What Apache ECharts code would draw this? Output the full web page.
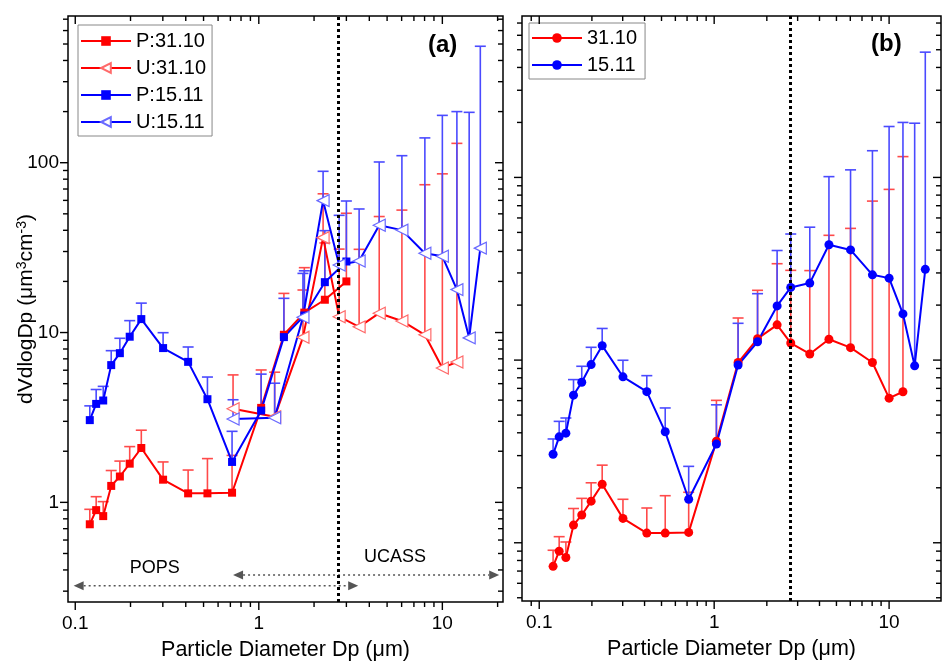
<!DOCTYPE html>
<html>
<head>
<meta charset="utf-8">
<script src="https://cdn.jsdelivr.net/npm/echarts@6/dist/echarts.min.js"></script>
<style>
  html, body { margin: 0; padding: 0; background: #fff; }
  #chart { width: 945px; height: 661px; }
</style>
</head>
<body>
<div id="chart"></div>
<script>
// Size-bin mid diameters (µm)
const popsDiam  = [0.12, 0.13, 0.142, 0.157, 0.175, 0.198, 0.229, 0.301, 0.412, 0.525, 0.715, 1.03, 1.37, 1.77, 2.29, 3.0];
const ucassDiam = [0.724, 1.22, 1.74, 2.24, 2.74, 3.52, 4.53, 6.02, 8.03, 10.0, 12.0, 14.0, 16.1];

// dV/dlogDp (µm³ cm⁻³) with upper error bounds, POPS
const pops3110      = [0.743, 0.90, 0.83, 1.25, 1.42, 1.69, 2.09, 1.36, 1.13, 1.13, 1.14, 3.6, 9.7, 13.1, 15.6, 20.0];
const pops3110Upper = [0.91, 1.08, 1.01, 1.54, 1.75, 2.13, 2.66, 1.73, 1.55, 1.81, 1.89, 6.02, 17.0, 24.1, 33.7, 50.4];
const pops1511      = [3.05, 3.8, 3.98, 6.43, 7.56, 9.45, 12.0, 8.1, 6.72, 4.05, 1.73, 3.47, 9.4, 12.6, 19.8, 26.2];
const pops1511Upper = [3.7, 4.62, 4.82, 7.82, 9.25, 11.75, 14.9, 9.98, 8.22, 5.47, 2.62, 5.69, 15.9, 23.1, 39.8, 59.5];

// dV/dlogDp (µm³ cm⁻³) with upper error bounds, UCASS
const ucass3110      = [3.56, 3.19, 9.37, 36.2, 12.4, 10.8, 13.0, 11.7, 9.7, 6.19, 6.71];
const ucass3110Upper = [5.63, 5.84, 17.8, 65.6, 31.0, 30.9, 48.2, 52.6, 74.2, 86, 130];
const ucass1511      = [3.10, 3.15, 12.3, 59.8, 25.0, 26.4, 42.8, 40.1, 29.3, 28.1, 17.9, 9.3, 31.4];
const ucass1511Upper = [4.02, 5.03, 22.3, 89, 49, 53.4, 101, 110, 140, 190, 200, 198, 485];

// Instrument switch-over diameter (µm)
const sizeBoundary = 2.72;

// Instrument ranges drawn as double arrows in panel (a)
const rangeNames = ['POPS', 'UCASS'];
const rangeFrom  = [0.098, 0.724];
const rangeTo    = [3.48, 20.4];
const rangeLevel = [0.323, 0.373];
const rangeLabelX = [0.271, 5.52];
const rangeLabelY = [0.41, 0.475];

// Axis ticks
const xMajorTicks = [0.1, 1, 10];
const xMinorTicks = [0.09, 0.2, 0.3, 0.4, 0.5, 0.6, 0.7, 0.8, 0.9, 2, 3, 4, 5, 6, 7, 8, 9, 20];
const yMajorTicks = [1, 10, 100];
const yMinorTicks = [0.2, 0.3, 0.4, 0.5, 0.6, 0.7, 0.8, 0.9, 2, 3, 4, 5, 6, 7, 8, 9,
                     20, 30, 40, 50, 60, 70, 80, 90, 200, 300, 400, 500, 600, 700, 800, 900];

const FONT = "'Liberation Sans', Arial, sans-serif";
const RED = '#ff0000', BLUE = '#0000ff';
const RED_ERR = '#ff4a4a', BLUE_ERR = '#4a4aff';

const ranges = [
  { x: [0.0913, 21.4], y: [0.259, 731] },
  { x: [0.0797, 19.8], y: [0.48, 765] }
];

function zip(xs, ys) { return ys.map((v, i) => [xs[i], v]); }
function zip3(xs, ys, us) { return ys.map((v, i) => [xs[i], v, us[i]]); }

// Combined distribution: POPS below the switch-over diameter, UCASS above it
function merge(pd, pv, pu, ud, uv, uu) {
  const pts = [];
  pv.forEach((v, i) => { if (pd[i] < sizeBoundary) pts.push([pd[i], v, pu[i]]); });
  uv.forEach((v, i) => { if (ud[i] > sizeBoundary) pts.push([ud[i], v, uu[i]]); });
  return pts;
}
const merged3110 = merge(popsDiam, pops3110, pops3110Upper, ucassDiam, ucass3110, ucass3110Upper);
const merged1511 = merge(popsDiam, pops1511, pops1511Upper, ucassDiam, ucass1511, ucass1511Upper);

function errorBars(name, gi, data, color) {
  return {
    name: name, type: 'custom', xAxisIndex: gi, yAxisIndex: gi, z: 2, silent: true,
    data: data, encode: { x: 0, y: [1, 2] },
    renderItem: function (params, api) {
      const p0 = api.coord([api.value(0), api.value(1)]);
      const p1 = api.coord([api.value(0), api.value(2)]);
      const s = { stroke: color, lineWidth: 1.6 };
      return { type: 'group', children: [
        { type: 'line', shape: { x1: p0[0], y1: p0[1], x2: p1[0], y2: p1[1] }, style: s },
        { type: 'line', shape: { x1: p1[0] - 5.5, y1: p1[1], x2: p1[0] + 5.5, y2: p1[1] }, style: s }
      ]};
    }
  };
}

function inRange(v, r) { return v > r[0] && v < r[1]; }

function tickSeries(gi) {
  const r = ranges[gi];
  const xt = xMajorTicks.filter(v => inRange(v, r.x)).map(v => [v, 1, 1])
    .concat(xMinorTicks.filter(v => inRange(v, r.x)).map(v => [v, 1, 0]));
  const yt = yMajorTicks.filter(v => inRange(v, r.y)).map(v => [1, v, 1])
    .concat(yMinorTicks.filter(v => inRange(v, r.y)).map(v => [1, v, 0]));
  const st = { stroke: '#000', lineWidth: 1.4 };
  return [{
    type: 'custom', xAxisIndex: gi, yAxisIndex: gi, silent: true, z: 5,
    data: xt, encode: { x: 0, y: 1 },
    renderItem: function (params, api) {
      const cs = params.coordSys;
      const x = api.coord([api.value(0), 1])[0];
      const len = api.value(2) ? 8 : 5;
      const b = cs.y + cs.height, t = cs.y;
      return { type: 'group', children: [
        { type: 'line', shape: { x1: x, y1: b, x2: x, y2: b + len }, style: st },
        { type: 'line', shape: { x1: x, y1: t, x2: x, y2: t + len }, style: st }
      ]};
    }
  }, {
    type: 'custom', xAxisIndex: gi, yAxisIndex: gi, silent: true, z: 5,
    data: yt, encode: { x: 0, y: 1 },
    renderItem: function (params, api) {
      const cs = params.coordSys;
      const y = api.coord([1, api.value(1)])[1];
      const len = api.value(2) ? 8 : 5;
      const l = cs.x, rr = cs.x + cs.width;
      return { type: 'group', children: [
        { type: 'line', shape: { x1: l - len, y1: y, x2: l, y2: y }, style: st },
        { type: 'line', shape: { x1: rr - len, y1: y, x2: rr, y2: y }, style: st }
      ]};
    }
  }];
}

function boundaryLine() {
  return {
    silent: true, symbol: 'none', animation: false,
    label: { show: false },
    lineStyle: { color: '#000', width: 3, type: [3, 3] },
    data: [{ xAxis: sizeBoundary }]
  };
}

function labelFmt(v) {
  const l = Math.log10(v);
  return Math.abs(l - Math.round(l)) < 1e-6 ? String(+v.toPrecision(6)) : '';
}

const triSymbol = { symbol: 'triangle', symbolRotate: 90, symbolSize: 12 };

const option = {
  animation: false,
  grid: [
    { left: 68, top: 16, width: 435, height: 586, show: true, borderColor: '#000', borderWidth: 1.5,
      outerBoundsMode: 'none', containLabel: false },
    { left: 522, top: 16, width: 419, height: 585, show: true, borderColor: '#000', borderWidth: 1.5,
      outerBoundsMode: 'none', containLabel: false }
  ],
  xAxis: [0, 1].map(gi => ({
    type: 'log', logBase: 10, gridIndex: gi, min: ranges[gi].x[0], max: ranges[gi].x[1],
    axisLine: { show: false }, axisTick: { show: false }, splitLine: { show: false },
    axisLabel: { formatter: labelFmt, fontSize: 19, fontFamily: FONT, color: '#000', margin: 12,
                 showMinLabel: false, showMaxLabel: false },
    name: 'Particle Diameter Dp (μm)', nameLocation: 'middle', nameGap: 37, nameMoveOverlap: false,
    nameTextStyle: { fontSize: 21.5, fontFamily: FONT, color: '#000' }
  })),
  yAxis: [0, 1].map(gi => ({
    type: 'log', logBase: 10, gridIndex: gi, min: ranges[gi].y[0], max: ranges[gi].y[1],
    axisLine: { show: false }, axisTick: { show: false }, splitLine: { show: false },
    axisLabel: { show: gi === 0, formatter: labelFmt, fontSize: 19, fontFamily: FONT, color: '#000', margin: 9,
                 showMinLabel: false, showMaxLabel: false },
    name: gi === 0 ? 'dVdlogDp (μm{sup|3}cm{sup|-3})' : '',
    nameLocation: 'middle', nameGap: 30, nameRotate: 90, nameMoveOverlap: false,
    nameTextStyle: { fontSize: 21, fontFamily: FONT, color: '#000',
      rich: { sup: { fontSize: 14, fontFamily: FONT, color: '#000', verticalAlign: 'bottom', padding: [0, 0, 9, 0] } } }
  })),
  legend: [{
    data: ['P:31.10', 'U:31.10', 'P:15.11', 'U:15.11'],
    orient: 'vertical', left: 78, top: 25, itemWidth: 50, itemHeight: 12, itemGap: 7,
    padding: [6, 6, 4, 2], borderColor: '#888', borderWidth: 1,
    textStyle: { fontSize: 20, fontFamily: FONT, color: '#000' }
  }, {
    data: ['31.10', '15.11'],
    orient: 'vertical', left: 529, top: 23, itemWidth: 50, itemHeight: 12, itemGap: 7,
    padding: [5, 8, 4, 2], borderColor: '#888', borderWidth: 1,
    textStyle: { fontSize: 20, fontFamily: FONT, color: '#000' }
  }],
  graphic: [
    { type: 'text', left: 428, top: 33, style: { text: '(a)', font: 'bold 24px ' + FONT, fill: '#000' } },
    { type: 'text', left: 871, top: 32, style: { text: '(b)', font: 'bold 24px ' + FONT, fill: '#000' } }
  ],
  series: [
    // Panel (a)
    errorBars('errP3110', 0, zip3(popsDiam, pops3110, pops3110Upper), RED_ERR),
    errorBars('errU3110', 0, zip3(ucassDiam, ucass3110, ucass3110Upper), RED_ERR),
    errorBars('errP1511', 0, zip3(popsDiam, pops1511, pops1511Upper), BLUE_ERR),
    errorBars('errU1511', 0, zip3(ucassDiam, ucass1511, ucass1511Upper), BLUE_ERR),
    { name: 'P:31.10', type: 'line', xAxisIndex: 0, yAxisIndex: 0, z: 3,
      data: zip(popsDiam, pops3110), symbol: 'rect', symbolSize: 8,
      itemStyle: { color: RED }, lineStyle: { color: RED, width: 2 } },
    Object.assign({ name: 'U:31.10', type: 'line', xAxisIndex: 0, yAxisIndex: 0, z: 3,
      data: zip(ucassDiam, ucass3110),
      itemStyle: { color: '#fff', borderColor: '#ff6a6a', borderWidth: 1.2 },
      lineStyle: { color: RED, width: 2 } }, triSymbol),
    { name: 'P:15.11', type: 'line', xAxisIndex: 0, yAxisIndex: 0, z: 3,
      data: zip(popsDiam, pops1511), symbol: 'rect', symbolSize: 8,
      itemStyle: { color: BLUE }, lineStyle: { color: BLUE, width: 2 } },
    Object.assign({ name: 'U:15.11', type: 'line', xAxisIndex: 0, yAxisIndex: 0, z: 3,
      data: zip(ucassDiam, ucass1511),
      itemStyle: { color: '#fff', borderColor: '#6a6aff', borderWidth: 1.2 },
      lineStyle: { color: BLUE, width: 2 },
      markLine: boundaryLine() }, triSymbol),
    // Instrument range arrows and labels
    {
      type: 'custom', xAxisIndex: 0, yAxisIndex: 0, silent: true, z: 4,
      data: rangeFrom.map((v, i) => [v, rangeLevel[i], rangeTo[i]]), encode: { x: [0, 2], y: 1 },
      renderItem: function (params, api) {
        const a = api.coord([api.value(0), api.value(1)]);
        const b = api.coord([api.value(2), api.value(1)]);
        const c = '#555', L = 10, H = 4.5;
        return { type: 'group', children: [
          { type: 'line', shape: { x1: a[0] + L, y1: a[1], x2: b[0] - L, y2: b[1] },
            style: { stroke: c, lineWidth: 1.5, lineDash: [2, 3] } },
          { type: 'polygon', shape: { points: [[a[0], a[1]], [a[0] + L, a[1] - H], [a[0] + L, a[1] + H]] }, style: { fill: c } },
          { type: 'polygon', shape: { points: [[b[0], b[1]], [b[0] - L, b[1] - H], [b[0] - L, b[1] + H]] }, style: { fill: c } }
        ]};
      }
    },
    {
      type: 'custom', xAxisIndex: 0, yAxisIndex: 0, silent: true, z: 4,
      data: rangeLabelX.map((v, i) => [v, rangeLabelY[i]]), encode: { x: 0, y: 1 },
      renderItem: function (params, api) {
        const p = api.coord([api.value(0), api.value(1)]);
        return { type: 'text', x: p[0], y: p[1],
          style: { text: rangeNames[params.dataIndex], fill: '#000', font: '18px ' + FONT,
                   textAlign: 'center', textVerticalAlign: 'middle' } };
      }
    },
    // Panel (b)
    errorBars('err3110', 1, merged3110, RED_ERR),
    errorBars('err1511', 1, merged1511, BLUE_ERR),
    { name: '31.10', type: 'line', xAxisIndex: 1, yAxisIndex: 1, z: 3,
      data: merged3110.map(p => [p[0], p[1]]), symbol: 'circle', symbolSize: 9,
      itemStyle: { color: RED }, lineStyle: { color: RED, width: 2 } },
    { name: '15.11', type: 'line', xAxisIndex: 1, yAxisIndex: 1, z: 3,
      data: merged1511.map(p => [p[0], p[1]]), symbol: 'circle', symbolSize: 9,
      itemStyle: { color: BLUE }, lineStyle: { color: BLUE, width: 2 },
      markLine: boundaryLine() }
  ].concat(tickSeries(0), tickSeries(1))
};

const chart = echarts.init(document.getElementById('chart'), null, { renderer: 'canvas' });
chart.setOption(option);
</script>
</body>
</html>
